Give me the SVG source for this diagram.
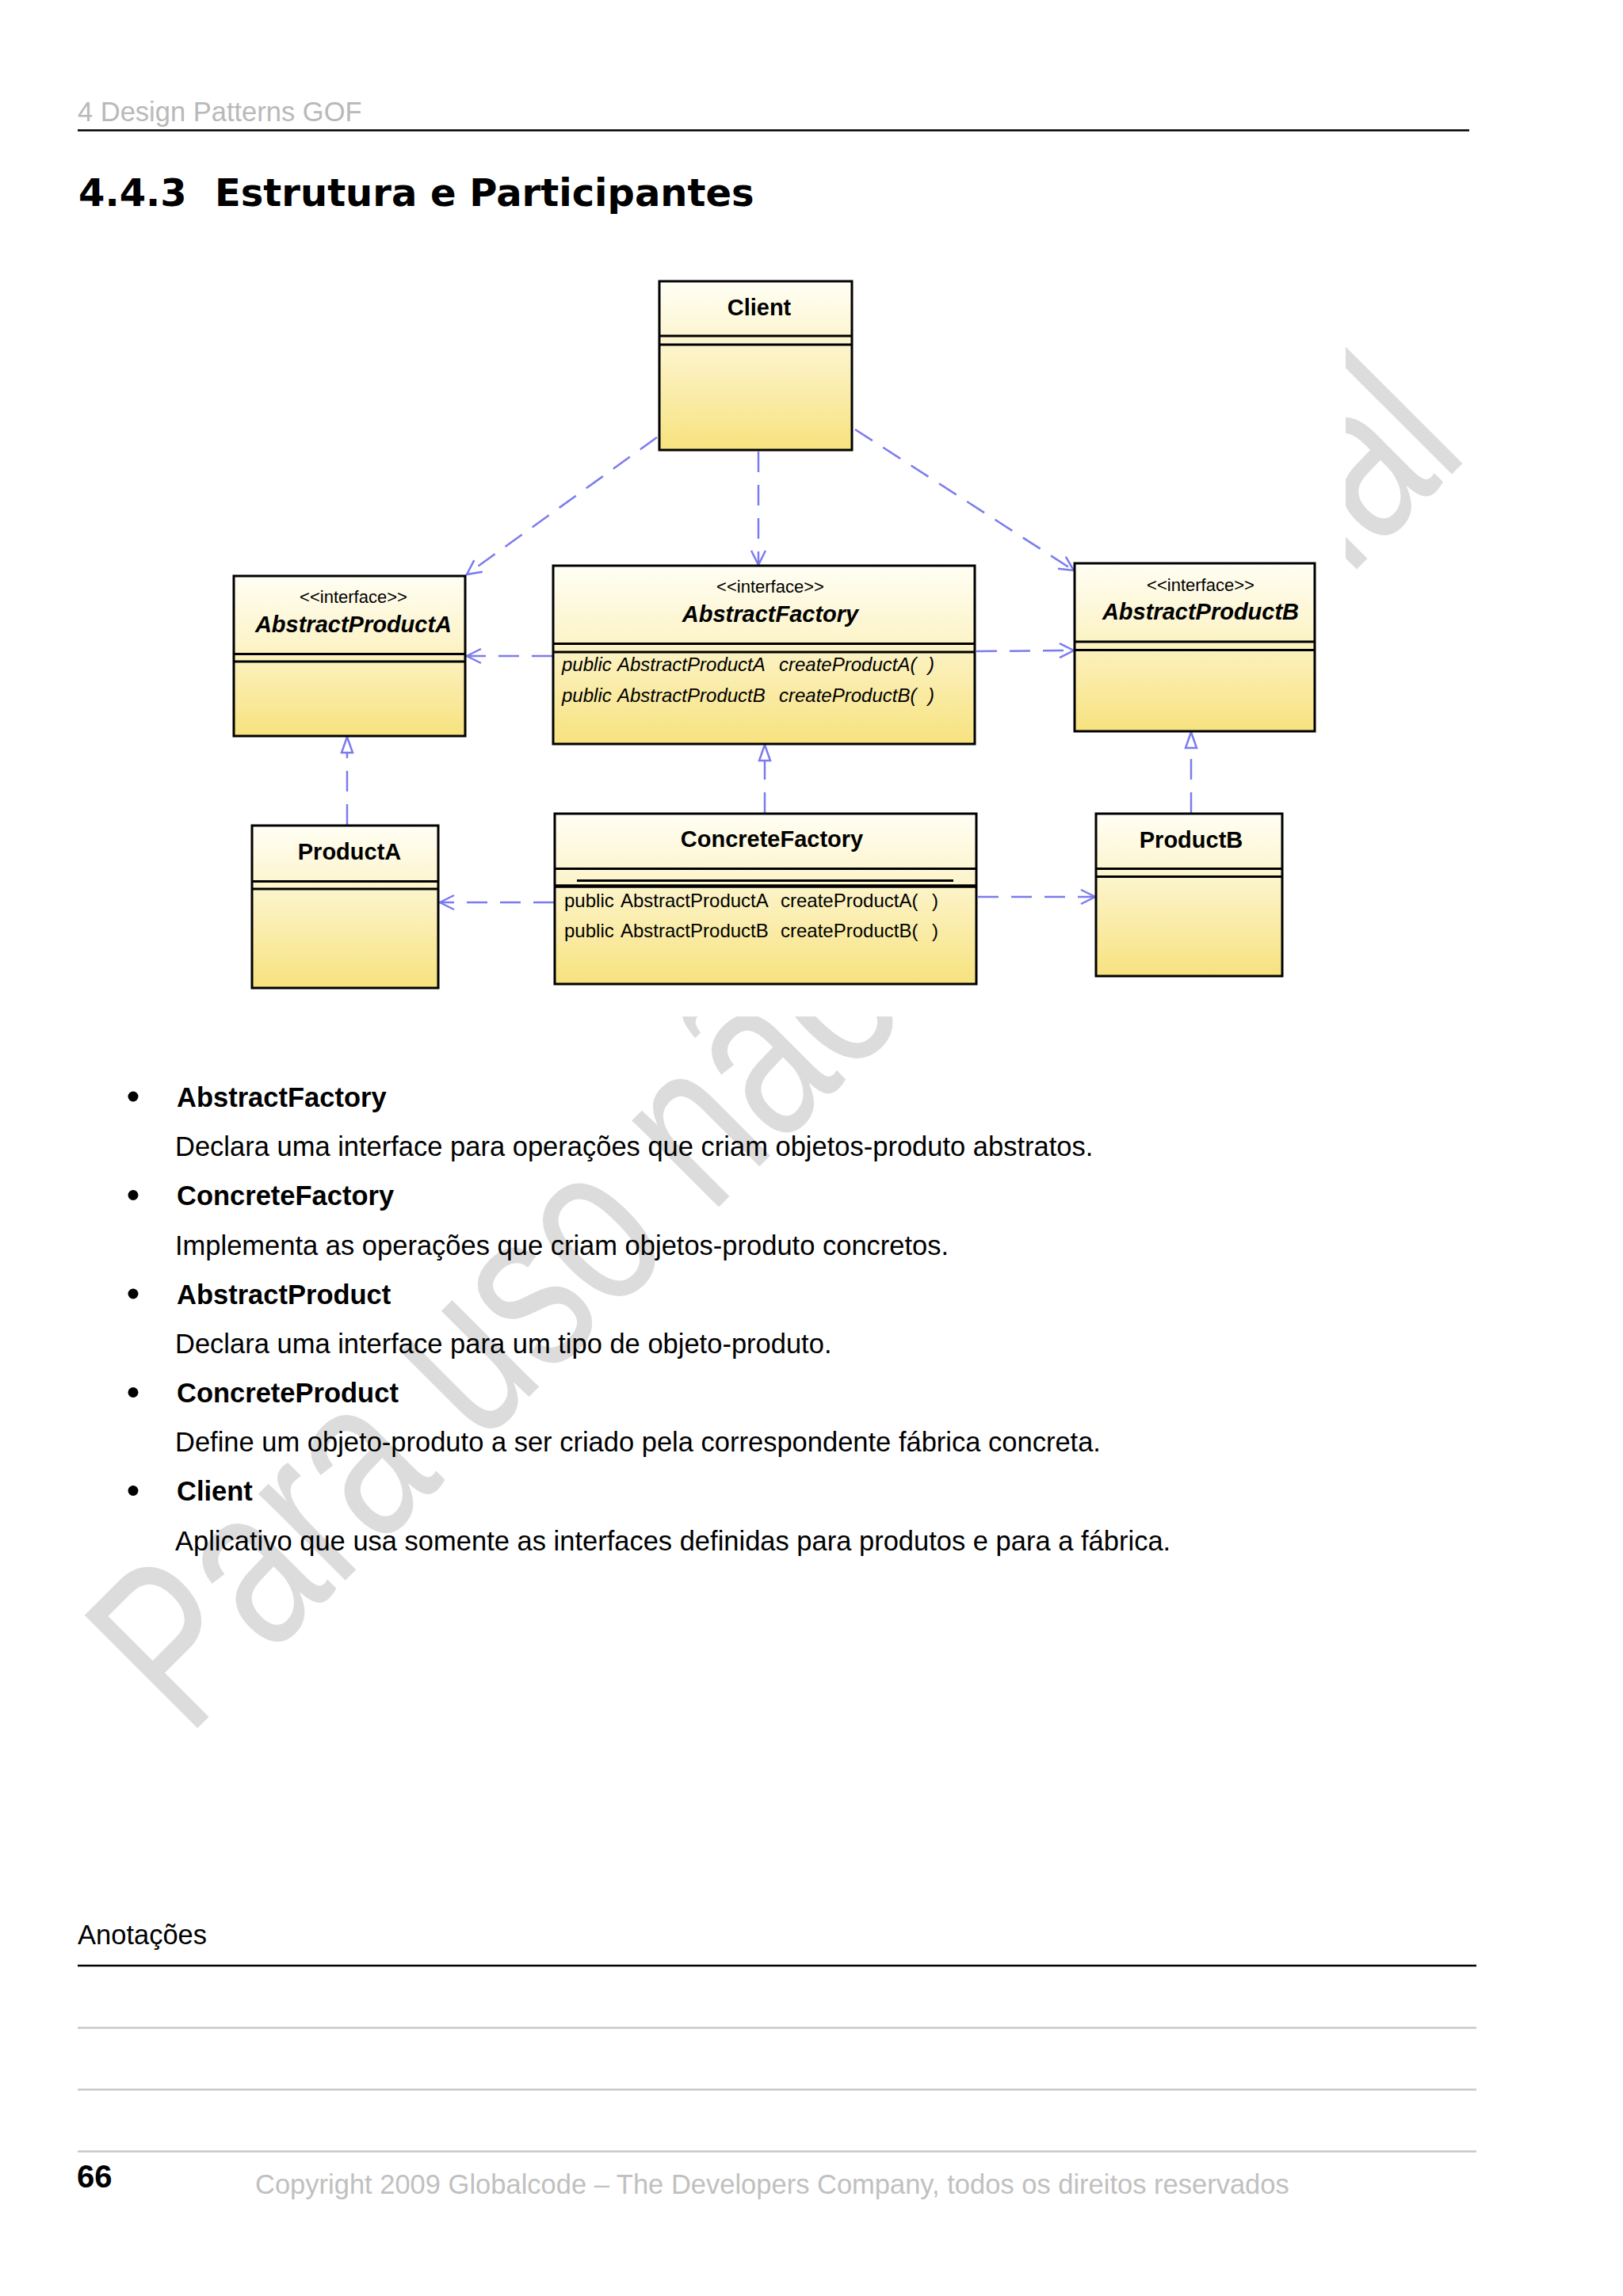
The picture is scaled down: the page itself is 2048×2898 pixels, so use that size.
<svg xmlns="http://www.w3.org/2000/svg" width="2048" height="2898" viewBox="0 0 2048 2898">
<defs>
<linearGradient id="boxfill" x1="0" y1="0" x2="0" y2="1">
<stop offset="0" stop-color="#fffef4"/>
<stop offset="0.45" stop-color="#fcf3c6"/>
<stop offset="1" stop-color="#f7e27e"/>
</linearGradient>
<marker id="arrowOpen" markerUnits="userSpaceOnUse" markerWidth="30" markerHeight="30" viewBox="-25 -15 30 30" refX="0" refY="0" orient="auto" overflow="visible">
<path d="M-18,-9 L0,0 L-18,9" fill="none" stroke="#7b7bef" stroke-width="2.5"/>
</marker>
<marker id="arrowTri" markerUnits="userSpaceOnUse" markerWidth="30" markerHeight="30" viewBox="-25 -15 30 30" refX="0" refY="0" orient="auto" overflow="visible">
<path d="M0,0 L-20,-7 L-20,7 Z" fill="#ffffff" stroke="#7b7bef" stroke-width="2.5"/>
</marker>
<style>
.box{fill:url(#boxfill);stroke:#000;stroke-width:3}
.div{stroke:#000;stroke-width:3}
.name{font-family:"Liberation Sans",Arial,sans-serif;font-weight:700;font-size:29px;text-anchor:middle;fill:#000}
.ital{font-style:italic}
.stereo{font-family:"Liberation Sans",Arial,sans-serif;font-size:22px;text-anchor:middle;fill:#000}
.meth{font-family:"Liberation Sans",Arial,sans-serif;font-size:24px;fill:#000}
.dep{fill:none;stroke:#7b7bef;stroke-width:2.5;stroke-dasharray:26 16}
.body{font-family:"Liberation Sans",Arial,sans-serif;font-size:34.5px;fill:#000}
.bold{font-weight:700}
.gray{fill:#b9b9b9}
.rule{stroke:#000;stroke-width:2.5}
.lrule{stroke:#c8c8c8;stroke-width:2.5}
.bullet{fill:#000}
</style>
</defs>
<rect x="0" y="0" width="2048" height="2898" fill="#ffffff"/>

<!-- watermark -->
<text transform="translate(236.5,2194) rotate(-45) scale(0.744,1)" font-family="Liberation Sans, Arial, sans-serif" font-size="293" fill="#dcdcdc">Para uso não comercial</text>
<rect x="240" y="320" width="1458" height="963" fill="#ffffff"/>

<!-- header -->
<text class="body gray" x="98" y="153">4 Design Patterns GOF</text>
<line class="rule" x1="98" y1="164.5" x2="1854" y2="164.5"/>
<text x="99" y="260" font-family="DejaVu Sans, Verdana, sans-serif" font-weight="700" font-size="48" fill="#000">4.4.3</text>
<text x="271" y="260" font-family="DejaVu Sans, Verdana, sans-serif" font-weight="700" font-size="48" fill="#000">Estrutura e Participantes</text>

<!-- connectors -->
<g id="connectors">
<path class="dep" d="M829,552 L589,725" marker-end="url(#arrowOpen)"/>
<path class="dep" d="M957,570 L957,713" marker-end="url(#arrowOpen)"/>
<path class="dep" d="M1079,542 L1355,720" marker-end="url(#arrowOpen)"/>
<path class="dep" d="M697,828 L589,828" marker-end="url(#arrowOpen)"/>
<path class="dep" d="M1232,822 L1355,821" marker-end="url(#arrowOpen)"/>
<path class="dep" d="M438,1041 L438,930" marker-end="url(#arrowTri)"/>
<path class="dep" d="M965,1026 L965,940" marker-end="url(#arrowTri)"/>
<path class="dep" d="M1503,1026 L1503,924" marker-end="url(#arrowTri)"/>
<path class="dep" d="M699,1139 L555,1139" marker-end="url(#arrowOpen)"/>
<path class="dep" d="M1234,1132 L1382,1132" marker-end="url(#arrowOpen)"/>
</g>

<!-- nodes -->
<g id="client">
<rect class="box" x="832" y="355" width="243" height="213"/>
<line class="div" x1="832" y1="424" x2="1075" y2="424"/>
<line class="div" x1="832" y1="435" x2="1075" y2="435"/>
<text class="name" x="958" y="398">Client</text>
</g>

<g id="abstractProductA">
<rect class="box" x="295" y="727" width="292" height="202"/>
<line class="div" x1="295" y1="825.5" x2="587" y2="825.5"/>
<line class="div" x1="295" y1="835" x2="587" y2="835"/>
<text class="stereo" x="446" y="761">&lt;&lt;interface&gt;&gt;</text>
<text class="name ital" x="446" y="798">AbstractProductA</text>
</g>

<g id="abstractFactory">
<rect class="box" x="698" y="714" width="532" height="225"/>
<line class="div" x1="698" y1="812.5" x2="1230" y2="812.5"/>
<line class="div" x1="698" y1="823" x2="1230" y2="823"/>
<text class="stereo" x="972" y="748">&lt;&lt;interface&gt;&gt;</text>
<text class="name ital" x="972" y="785">AbstractFactory</text>
<text class="meth ital" y="847"><tspan x="709">public</tspan><tspan x="779">AbstractProductA</tspan><tspan x="983">createProductA(</tspan><tspan x="1171">)</tspan></text>
<text class="meth ital" y="886"><tspan x="709">public</tspan><tspan x="779">AbstractProductB</tspan><tspan x="983">createProductB(</tspan><tspan x="1171">)</tspan></text>
</g>

<g id="abstractProductB">
<rect class="box" x="1356" y="711" width="303" height="212"/>
<line class="div" x1="1356" y1="810" x2="1659" y2="810"/>
<line class="div" x1="1356" y1="820.5" x2="1659" y2="820.5"/>
<text class="stereo" x="1515" y="746">&lt;&lt;interface&gt;&gt;</text>
<text class="name ital" x="1515" y="782">AbstractProductB</text>
</g>

<g id="productA">
<rect class="box" x="318" y="1042" width="235" height="205"/>
<line class="div" x1="318" y1="1112.5" x2="553" y2="1112.5"/>
<line class="div" x1="318" y1="1122" x2="553" y2="1122"/>
<text class="name" x="441" y="1085">ProductA</text>
</g>

<g id="concreteFactory">
<rect class="box" x="700" y="1027" width="532" height="215"/>
<line class="div" x1="700" y1="1096.5" x2="1232" y2="1096.5"/>
<line class="div" x1="728" y1="1111.5" x2="1203" y2="1111.5"/>
<line x1="700" y1="1118.5" x2="1232" y2="1118.5" stroke="#000" stroke-width="4.5"/>
<text class="name" x="974" y="1069">ConcreteFactory</text>
<text class="meth" y="1145"><tspan x="712">public</tspan><tspan x="783">AbstractProductA</tspan><tspan x="985">createProductA(</tspan><tspan x="1176">)</tspan></text>
<text class="meth" y="1183"><tspan x="712">public</tspan><tspan x="783">AbstractProductB</tspan><tspan x="985">createProductB(</tspan><tspan x="1176">)</tspan></text>
</g>

<g id="productB">
<rect class="box" x="1383" y="1027" width="235" height="205"/>
<line class="div" x1="1383" y1="1096.5" x2="1618" y2="1096.5"/>
<line class="div" x1="1383" y1="1106.5" x2="1618" y2="1106.5"/>
<text class="name" x="1503" y="1070">ProductB</text>
</g>

<!-- participants list -->
<g id="participants">
<circle class="bullet" cx="168" cy="1384" r="6.5"/>
<text class="body bold" x="223" y="1396.5">AbstractFactory</text>
<text class="body" x="221" y="1459">Declara uma interface para operações que criam objetos-produto abstratos.</text>
<circle class="bullet" cx="168" cy="1508.5" r="6.5"/>
<text class="body bold" x="223" y="1521">ConcreteFactory</text>
<text class="body" x="221" y="1583.5">Implementa as operações que criam objetos-produto concretos.</text>
<circle class="bullet" cx="168" cy="1633" r="6.5"/>
<text class="body bold" x="223" y="1645.5">AbstractProduct</text>
<text class="body" x="221" y="1708">Declara uma interface para um tipo de objeto-produto.</text>
<circle class="bullet" cx="168" cy="1757.5" r="6.5"/>
<text class="body bold" x="223" y="1770">ConcreteProduct</text>
<text class="body" x="221" y="1832">Define um objeto-produto a ser criado pela correspondente fábrica concreta.</text>
<circle class="bullet" cx="168" cy="1881.5" r="6.5"/>
<text class="body bold" x="223" y="1894">Client</text>
<text class="body" x="221" y="1956.5">Aplicativo que usa somente as interfaces definidas para produtos e para a fábrica.</text>
</g>

<!-- footer -->
<text class="body" x="98" y="2454">Anotações</text>
<line class="rule" x1="98" y1="2481" x2="1863" y2="2481"/>
<line class="lrule" x1="98" y1="2559.5" x2="1863" y2="2559.5"/>
<line class="lrule" x1="98" y1="2637.5" x2="1863" y2="2637.5"/>
<line class="lrule" x1="98" y1="2715.5" x2="1863" y2="2715.5"/>
<text x="97" y="2761" font-family="Liberation Sans, Arial, sans-serif" font-weight="700" font-size="40" fill="#000">66</text>
<text class="body" x="322" y="2769" style="fill:#c0c0c0">Copyright 2009 Globalcode – The Developers Company, todos os direitos reservados</text>
</svg>
